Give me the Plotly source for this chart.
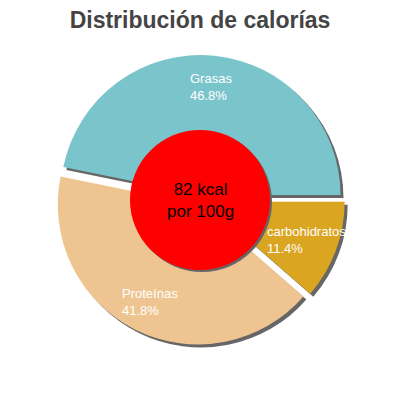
import numpy as np
import plotly.graph_objects as go

# ---------------------------------------------------------------------
# Data
# ---------------------------------------------------------------------
LABELS = ["Grasas", "Proteínas", "carbohidratos"]
PERCENTS = [46.8, 41.8, 11.4]
COLORS = ["#7AC4CC", "#EEC591", "#DAA520"]
KCAL = 82
TITLE = "Distribución de calorías"

# ---------------------------------------------------------------------
# Geometry: the page body keeps its default 8px margin, so the figure
# is 392px and every position below is given in window pixels.
# ---------------------------------------------------------------------
OFF = 8.0
SIZE = 392.0
CENTER_PX = (200.0, 200.0)
RADIUS_PX = 140.0
PULL_PX = 5.0
SHADOW_PX = 3.0
HOLE_PX = 70.0
LABEL_PX = 114.0


def px_x(x):
    return (x - OFF) / SIZE


def px_y(y):
    return 1 - (y - OFF) / SIZE


def main() -> None:
    fig = go.Figure()

    cx, cy = CENTER_PX
    pull = PULL_PX / RADIUS_PX
    half = RADIUS_PX + PULL_PX

    fracs = np.array(PERCENTS) / sum(PERCENTS)

    common = dict(
        values=PERCENTS,
        labels=LABELS,
        sort=False,
        direction="counterclockwise",
        # first slice starts at 3 o'clock and runs counterclockwise
        rotation=90 - 360 * fracs[0],
        pull=[pull] * len(PERCENTS),
        textinfo="none",
        hoverinfo="skip",
        showlegend=False,
    )

    def domain(dx=0.0, dy=0.0):
        return dict(x=[px_x(cx - half + dx), px_x(cx + half + dx)],
                    y=[px_y(cy + half + dy), px_y(cy - half + dy)])

    # Drop shadow
    fig.add_trace(go.Pie(
        **common,
        marker=dict(colors=["#666666"] * len(PERCENTS), line=dict(width=0)),
        domain=domain(SHADOW_PX, SHADOW_PX),
    ))
    # Main pie
    fig.add_trace(go.Pie(
        **common,
        marker=dict(colors=COLORS, line=dict(width=0)),
        domain=domain(),
    ))

    # Red centre disc with a small shadow
    for d, col in [(2.0, "#666666"), (0.0, "#FF0000")]:
        fig.add_shape(type="circle", xref="paper", yref="paper",
                      x0=px_x(cx - HOLE_PX + d), x1=px_x(cx + HOLE_PX + d),
                      y0=px_y(cy + HOLE_PX + d), y1=px_y(cy - HOLE_PX + d),
                      fillcolor=col, line=dict(width=0), layer="above")

    fig.add_annotation(
        x=px_x(cx), y=px_y(cy), xref="paper", yref="paper",
        text=f"{KCAL} kcal<br>por 100g", showarrow=False,
        font=dict(family="Liberation Sans, Arial", size=17, color="#000000"),
        xanchor="center", yanchor="middle",
    )

    # Slice labels along each slice's bisector
    start = 0.0
    for lab, pct, f in zip(LABELS, PERCENTS, fracs):
        mid = np.deg2rad(start + f * 180.0)
        start += f * 360.0
        fig.add_annotation(
            x=px_x(cx + LABEL_PX * np.cos(mid)),
            y=px_y(cy - LABEL_PX * np.sin(mid)),
            xref="paper", yref="paper",
            text=f"{lab}<br>{pct:.1f}%", showarrow=False, align="left",
            font=dict(family="Liberation Sans, Arial", size=13, color="#FFFFFF"),
            xanchor="center", yanchor="middle",
        )

    fig.update_layout(
        width=SIZE, height=SIZE,
        margin=dict(l=0, r=0, t=0, b=0),
        paper_bgcolor="white", plot_bgcolor="white",
        title=dict(
            text=f"<b>{TITLE}</b>", x=px_x(200), xanchor="center",
            y=px_y(20), yanchor="middle", yref="container",
            font=dict(family="Liberation Sans, Arial", size=23, color="#444444"),
        ),
    )

    fig.write_html("out.html")


if __name__ == "__main__":
    main()
